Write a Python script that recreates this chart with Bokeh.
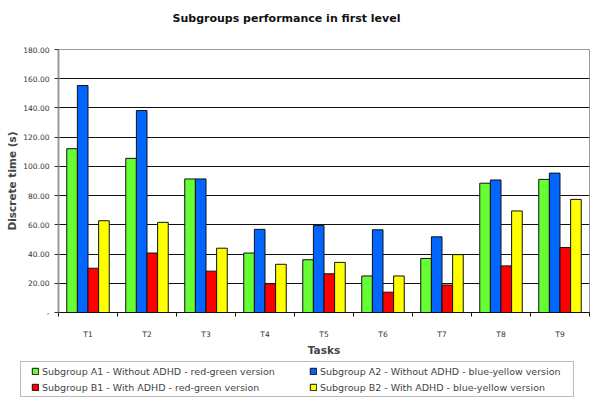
from bokeh.plotting import figure
from bokeh.layouts import column, row
from bokeh.models import (Range1d, FixedTicker, NumeralTickFormatter, Legend, LegendItem,
                          ColumnDataSource, Label)
from bokeh.transform import dodge
from bokeh.embed import file_html
from bokeh.resources import INLINE

tasks = ["T1", "T2", "T3", "T4", "T5", "T6", "T7", "T8", "T9"]
a1 = [112.1, 105.5, 91.4, 40.7, 36.1, 25.0, 37.0, 88.5, 91.1]
a2 = [155.3, 138.2, 91.4, 56.9, 59.5, 56.6, 51.8, 90.7, 95.4]
b1 = [30.3, 40.7, 28.3, 19.7, 26.5, 13.9, 18.8, 31.9, 44.5]
b2 = [62.8, 61.7, 44.0, 33.0, 34.3, 25.0, 39.6, 69.5, 77.4]
y_ticks = [0, 20, 40, 60, 80, 100, 120, 140, 160, 180]

title_text = "Subgroups performance in first level"
series_names = [
    "Subgroup A1 - Without ADHD - red-green version",
    "Subgroup A2 - Without ADHD - blue-yellow version",
    "Subgroup B1 - With ADHD - red-green version",
    "Subgroup B2 - With ADHD - blue-yellow version",
]
colors = ["#66FF33", "#0066FF", "#FF0000", "#FFFF00"]
offsets = [-0.27, -0.09, 0.09, 0.27]
cols = ["a1", "a2", "b1", "b2"]

centers = [i + 0.5 for i in range(len(tasks))]
src = ColumnDataSource(dict(x=centers, a1=a1, a2=a2, b1=b1, b2=b2))

FONT = "DejaVu Sans"


def strip(height):
    f = figure(width=600, height=height, x_range=Range1d(100, 101), y_range=Range1d(1000, 1001),
               output_backend="svg", toolbar_location=None,
               x_axis_type=None, y_axis_type=None,
               min_border_left=0, min_border_right=0, min_border_top=0, min_border_bottom=0)
    f.outline_line_color = None
    f.grid.grid_line_color = None
    f.border_fill_color = "white"
    f.background_fill_color = "white"
    return f


# title strip
top = strip(35)
top.add_layout(Label(x=172, y=17, x_units="screen", y_units="screen", text=title_text,
                     text_font=FONT, text_font_size="11px", text_font_style="bold",
                     text_color="#111111", text_align="left", text_baseline="middle"))

# main chart
p = figure(width=600, height=323, x_range=Range1d(0, len(tasks)), y_range=Range1d(0, 180),
           output_backend="svg", toolbar_location=None,
           min_border_left=58, min_border_right=11, min_border_top=14, min_border_bottom=38)
p.background_fill_color = "white"
p.border_fill_color = "white"
p.outline_line_color = "#999999"

for col, c, off in zip(cols, colors, offsets):
    p.vbar(x=dodge("x", off, range=p.x_range), top=col, width=0.18, bottom=0,
           source=src, fill_color=c, line_color="#111111", line_width=1)

# y axis
p.yaxis.ticker = FixedTicker(ticks=y_ticks)
p.yaxis.formatter = NumeralTickFormatter(format="0.00")
p.yaxis.major_label_overrides = {0: "-"}
p.yaxis.minor_tick_line_color = None
p.yaxis.major_tick_in = 0
p.yaxis.major_tick_out = 4
p.yaxis.major_tick_line_color = "#333333"
p.yaxis.axis_line_color = "#999999"
p.yaxis.axis_line_width = 2
p.yaxis.major_label_text_font = FONT
p.yaxis.major_label_text_font_size = "7.5px"
p.yaxis.major_label_text_color = "#333333"
p.yaxis.major_label_standoff = 5
p.yaxis.axis_label = "Discrete time (s)"
p.yaxis.axis_label_text_font = FONT
p.yaxis.axis_label_text_font_size = "10.5px"
p.yaxis.axis_label_text_font_style = "bold"
p.yaxis.axis_label_standoff = 2

# x axis
p.xaxis.ticker = FixedTicker(ticks=centers, minor_ticks=list(range(len(tasks) + 1)))
p.xaxis.major_label_overrides = {c: t for c, t in zip(centers, tasks)}
p.xaxis.major_tick_in = 0
p.xaxis.major_tick_out = 0
p.xaxis.minor_tick_in = 0
p.xaxis.minor_tick_out = 4
p.xaxis.minor_tick_line_color = "#111111"
p.xaxis.axis_line_color = "#111111"
p.xaxis.major_label_text_font = FONT
p.xaxis.major_label_text_font_size = "7.5px"
p.xaxis.major_label_text_color = "#333333"
p.xaxis.major_label_standoff = 13
p.xaxis.axis_label = "Tasks"
p.xaxis.axis_label_text_font = FONT
p.xaxis.axis_label_text_font_size = "10.5px"
p.xaxis.axis_label_text_font_style = "bold"
p.xaxis.axis_label_standoff = 2

p.xgrid.grid_line_color = None
p.ygrid.grid_line_color = "#111111"
p.ygrid.grid_line_width = 1
p.ygrid.ticker = FixedTicker(ticks=y_ticks[1:-1])

# legend strip below the chart (its bars lie outside its ranges, only the legend shows)
lg = strip(49)
leg_r = [lg.vbar(x="x", top=col, width=0.18, source=src, fill_color=c,
                 line_color="#111111", line_width=1) for col, c in zip(cols, colors)]
ghost = lg.vbar(x="x", top="a1", width=0.18, source=src, fill_alpha=0, line_alpha=0)

common = dict(label_text_font=FONT, label_text_font_size="9.5px",
              glyph_width=8, glyph_height=8, label_standoff=3, label_height=12,
              spacing=4, padding=3, margin=0)
frame_leg = Legend(items=[LegendItem(label=" ", renderers=[ghost])],
                   location=(20, 10), label_text_font=FONT, label_text_font_size="9.5px",
                   glyph_width=8, glyph_height=8, label_standoff=3, label_height=28,
                   label_width=535, padding=3, margin=0,
                   border_line_color="#777777", border_line_width=1,
                   background_fill_color="white", background_fill_alpha=1.0)
left_leg = Legend(items=[LegendItem(label=series_names[0], renderers=[leg_r[0]]),
                         LegendItem(label=series_names[2], renderers=[leg_r[2]])],
                  location=(31, 14), border_line_color=None,
                  background_fill_alpha=0.0, **common)
right_leg = Legend(items=[LegendItem(label=series_names[1], renderers=[leg_r[1]]),
                          LegendItem(label=series_names[3], renderers=[leg_r[3]])],
                   location=(309, 14), border_line_color=None,
                   background_fill_alpha=0.0, **common)
lg.add_layout(frame_leg, "center")
lg.add_layout(left_leg, "center")
lg.add_layout(right_leg, "center")

layout = column(row(top, spacing=0), p, row(lg, spacing=0), spacing=0)
open("out.html", "w").write(file_html(layout, INLINE))
